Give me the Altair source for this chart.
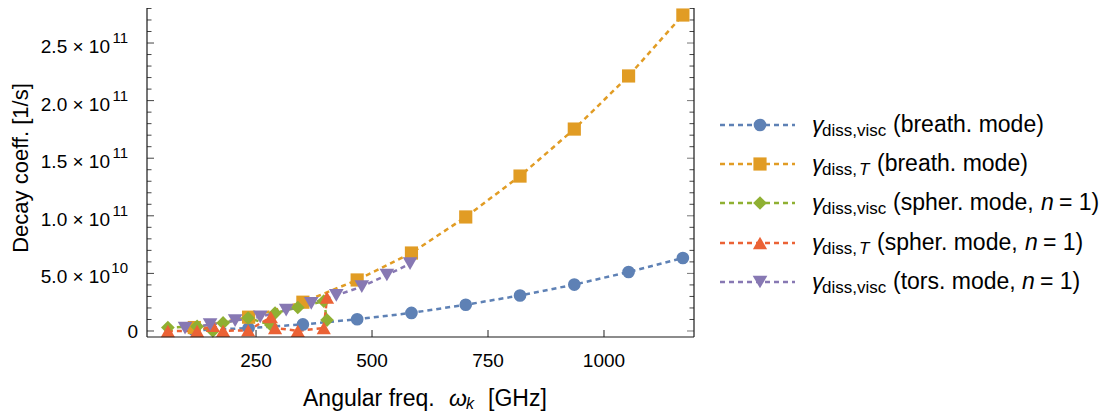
import altair as alt
import pandas as pd

# ---------------- data ----------------
series_keys = ["visc_breath", "T_breath", "visc_spher", "T_spher", "visc_tors"]

breath_freq = [117, 234, 351, 468, 585, 702, 819, 936, 1053, 1170]
breath_visc = [0.06e10, 0.25e10, 0.57e10, 1.02e10, 1.57e10, 2.28e10, 3.08e10, 4.03e10, 5.12e10, 6.34e10]
breath_T = [0.3e10, 1.2e10, 2.5e10, 4.43e10, 6.77e10, 9.9e10, 13.45e10, 17.53e10, 22.14e10, 27.43e10]

spher_freq = [60, 123, 157, 179, 233, 282, 291, 340, 396, 403]
spher_visc = [0.3e10, 0.4e10, 0.0, 0.7e10, 1.13e10, 0.52e10, 1.56e10, 2.04e10, 2.6e10, 0.95e10]
spher_T = [0.0, 0.0, 0.45e10, 0.02e10, 0.05e10, 1.2e10, 0.26e10, 0.02e10, 0.26e10, 2.9e10]

tors_freq = [97, 151, 205, 259, 315, 369, 423, 478, 532, 582]
tors_visc = [0.25e10, 0.55e10, 0.9e10, 1.23e10, 1.82e10, 2.4e10, 3.1e10, 3.85e10, 4.86e10, 5.85e10]

x_tick_values = [250, 500, 750, 1000]
x_tick_labels = ["250", "500", "750", "1000"]
y_major_values = [0, 5e10, 1e11, 1.5e11, 2e11, 2.5e11]
y_major_mant = ["0", "5.0 \u00d7 10", "1.0 \u00d7 10", "1.5 \u00d7 10", "2.0 \u00d7 10", "2.5 \u00d7 10"]
y_major_exp = ["", "10", "11", "11", "11", "11"]
y_minor_values = [i * 1e10 for i in range(0, 29)]

x_title_parts = ["Angular freq.", "\u03c9", "k", "[GHz]"]
y_title = "Decay coeff. [1/s]"

legend_gamma = ["\u03b3"] * 5
legend_sub = ["diss,visc", "diss,", "diss,visc", "diss,", "diss,visc"]
legend_subT = ["", "T", "", "T", ""]
legend_main = ["(breath. mode)", "(breath. mode)", "(spher. mode, ", "(spher. mode, ", "(tors. mode, "]
legend_n = ["", "", "n", "n", "n"]
legend_tail = ["", "", "= 1)", "= 1)", "= 1)"]

# ---------------- styles / layout ----------------
COLORS = ["#5E81B5", "#E19C24", "#8FB032", "#EB6235", "#8778B3"]
SHAPES = ["circle", "square", "diamond", "triangle-up", "triangle-down"]
SIZES = [160, 215, 250, 250, 250]
FONT = "Liberation Sans"
TICK_FS = 19
W, H = 547, 329
X_DOM = [15, 1194]
Y_DOM = [-5.21e9, 2.804e11]

legend_y = [117, 156, 195, 235, 274]
legend_main_x = [746, 730, 746, 730, 746]
legend_n_x = [0, 0, 894, 878, 875]
legend_tail_x = [0, 0, 912, 896, 893]

# ---------------- tables ----------------
rows = []
for key, fx, fy in [
    ("visc_breath", breath_freq, breath_visc),
    ("T_breath", breath_freq, breath_T),
    ("visc_spher", spher_freq, spher_visc),
    ("T_spher", spher_freq, spher_T),
    ("visc_tors", tors_freq, tors_visc),
]:
    for i, (a, b) in enumerate(zip(fx, fy)):
        rows.append({"series": key, "freq": a, "gamma": b, "idx": i})
df = pd.DataFrame(rows)

ymaj = pd.DataFrame({"v": y_major_values, "mant": y_major_mant, "exp": y_major_exp})
ymin = pd.DataFrame({"v": [v for v in y_minor_values if v not in y_major_values]})
xt = pd.DataFrame({"v": x_tick_values, "lab": x_tick_labels})
leg = pd.DataFrame({
    "series": series_keys, "ypix": legend_y, "gam": legend_gamma, "sub": legend_sub,
    "subT": legend_subT, "main": legend_main, "n": legend_n, "tail": legend_tail,
    "main_x": legend_main_x, "n_x": legend_n_x, "tail_x": legend_tail_x,
})
one = pd.DataFrame({"a": [0]})

xs = alt.Scale(domain=X_DOM, nice=False, zero=False)
ys = alt.Scale(domain=Y_DOM, nice=False, zero=False)
color_scale = alt.Scale(domain=series_keys, range=COLORS)
shape_scale = alt.Scale(domain=series_keys, range=SHAPES)
size_scale = alt.Scale(domain=series_keys, range=SIZES)


def X(f):
    return alt.X(f, type="quantitative", scale=xs, axis=None)


def Y(f):
    return alt.Y(f, type="quantitative", scale=ys, axis=None)


col = alt.Color("series:N", scale=color_scale, legend=None)
shp = alt.Shape("series:N", scale=shape_scale, legend=None)
siz = alt.Size("series:N", scale=size_scale, legend=None)

lines = alt.Chart(df).mark_line(strokeDash=[5, 4], strokeWidth=2.5).encode(
    x=X("freq"), y=Y("gamma"), color=col, detail="series:N", order="idx:Q")
points = alt.Chart(df).mark_point(filled=True, opacity=1, strokeWidth=0).encode(
    x=X("freq"), y=Y("gamma"), color=col, shape=shp, size=siz)

TICKC = "#444444"
left_major = alt.Chart(ymaj).mark_rule(color=TICKC, strokeWidth=1).encode(
    y=Y("v"), x=alt.value(0), x2=alt.value(7))
left_minor = alt.Chart(ymin).mark_rule(color=TICKC, strokeWidth=1).encode(
    y=Y("v"), x=alt.value(0), x2=alt.value(4.5))
right_major = alt.Chart(ymaj).mark_rule(color="#777777", strokeWidth=1).encode(
    y=Y("v"), x=alt.value(W - 7), x2=alt.value(W))
right_minor = alt.Chart(ymin).mark_rule(color=TICKC, strokeWidth=1).encode(
    y=Y("v"), x=alt.value(W - 4.5), x2=alt.value(W))
bottom_ticks = alt.Chart(xt).mark_rule(color="#222222", strokeWidth=1).encode(
    x=X("v"), y=alt.value(H - 7), y2=alt.value(H))

FR = "#1a1a1a"
frame_left = alt.Chart(one).mark_rule(color=FR, strokeWidth=1.2).encode(
    x=alt.value(0), y=alt.value(0), y2=alt.value(H))
frame_right = alt.Chart(one).mark_rule(color=FR, strokeWidth=1.2).encode(
    x=alt.value(W), y=alt.value(0), y2=alt.value(H))
frame_bottom = alt.Chart(one).mark_rule(color=FR, strokeWidth=1.2).encode(
    x=alt.value(0), x2=alt.value(W), y=alt.value(H))

ylab_base = alt.Chart(ymaj).transform_filter(alt.datum.exp != "").mark_text(
    align="right", baseline="alphabetic", dy=10, fontSize=TICK_FS, font=FONT, color="black").encode(
    y=Y("v"), x=alt.value(-37), text="mant:N")
ylab_exp = alt.Chart(ymaj).transform_filter(alt.datum.exp != "").mark_text(
    align="right", baseline="alphabetic", dy=0, fontSize=15, font=FONT, color="black").encode(
    y=Y("v"), x=alt.value(-19), text="exp:N")
ylab_zero = alt.Chart(ymaj).transform_filter(alt.datum.exp == "").mark_text(
    align="right", baseline="alphabetic", dy=7, fontSize=TICK_FS, font=FONT, color="black").encode(
    y=Y("v"), x=alt.value(-9), text="mant:N")
xlab = alt.Chart(xt).mark_text(
    align="center", baseline="alphabetic", fontSize=TICK_FS, font=FONT, color="black").encode(
    x=X("v"), y=alt.value(359), text="lab:N")

ytitle = alt.Chart(one).mark_text(
    align="center", baseline="alphabetic", angle=270, fontSize=22, font=FONT, color="black").encode(
    x=alt.value(-119), y=alt.value(160), text=alt.value(y_title))


def tpiece(txt, x, y, size, italic=False):
    return alt.Chart(one).mark_text(
        align="left", baseline="alphabetic", fontSize=size, font=FONT, color="black",
        fontStyle="italic" if italic else "normal").encode(
        x=alt.value(x), y=alt.value(y), text=alt.value(txt))


xt1 = tpiece(x_title_parts[0], 156, 398, 23)
xt2 = tpiece(x_title_parts[1], 302, 398, 23, True)
xt3 = tpiece(x_title_parts[2], 319, 401, 16, True)
xt4 = tpiece(x_title_parts[3], 341, 398, 23)

LY = alt.Y("ypix:Q", scale=None, axis=None)
leg_line = alt.Chart(leg).mark_rule(strokeDash=[5, 4], strokeWidth=2.5).encode(
    x=alt.value(573), x2=alt.value(648), y=LY, color=col)
leg_pt = alt.Chart(leg).mark_point(filled=True, opacity=1, strokeWidth=0).encode(
    x=alt.value(613), y=LY, color=col, shape=shp, size=siz)


def legtext(field, xfield=None, xval=None, size=23, italic=False, dy=7, filt=None):
    c = alt.Chart(leg)
    if filt:
        c = c.transform_filter(filt)
    xenc = alt.X(xfield, type="quantitative", scale=None, axis=None) if xfield else alt.value(xval)
    return c.mark_text(align="left", baseline="alphabetic", dy=dy, fontSize=size, font=FONT,
                       color="black", fontStyle="italic" if italic else "normal").encode(
        x=xenc, y=LY, text=alt.Text(field + ":N"))


lg_gam = legtext("gam", xval=665, size=23, italic=True, dy=7)
lg_sub = legtext("sub", xval=675, size=17, dy=11)
lg_subT = legtext("subT", xval=712, size=17, italic=True, dy=11, filt=alt.datum.subT != "")
lg_main = legtext("main", xfield="main_x", size=23, dy=7)
lg_n = legtext("n", xfield="n_x", size=23, italic=True, dy=7, filt=alt.datum.n != "")
lg_tail = legtext("tail", xfield="tail_x", size=23, dy=7, filt=alt.datum.tail != "")

chart = alt.layer(
    left_minor, left_major, right_minor, right_major, bottom_ticks,
    lines, points,
    frame_left, frame_right, frame_bottom,
    ylab_base, ylab_exp, ylab_zero, xlab, ytitle, xt1, xt2, xt3, xt4,
    leg_line, leg_pt, lg_gam, lg_sub, lg_subT, lg_main, lg_n, lg_tail,
).properties(
    width=W, height=H,
    autosize=alt.AutoSizeParams(type="none"),
    padding={"left": 139, "top": 0, "right": 410, "bottom": 77},
).configure_view(stroke=None)

chart.save("out.html", embed_options={"renderer": "svg", "actions": False})
